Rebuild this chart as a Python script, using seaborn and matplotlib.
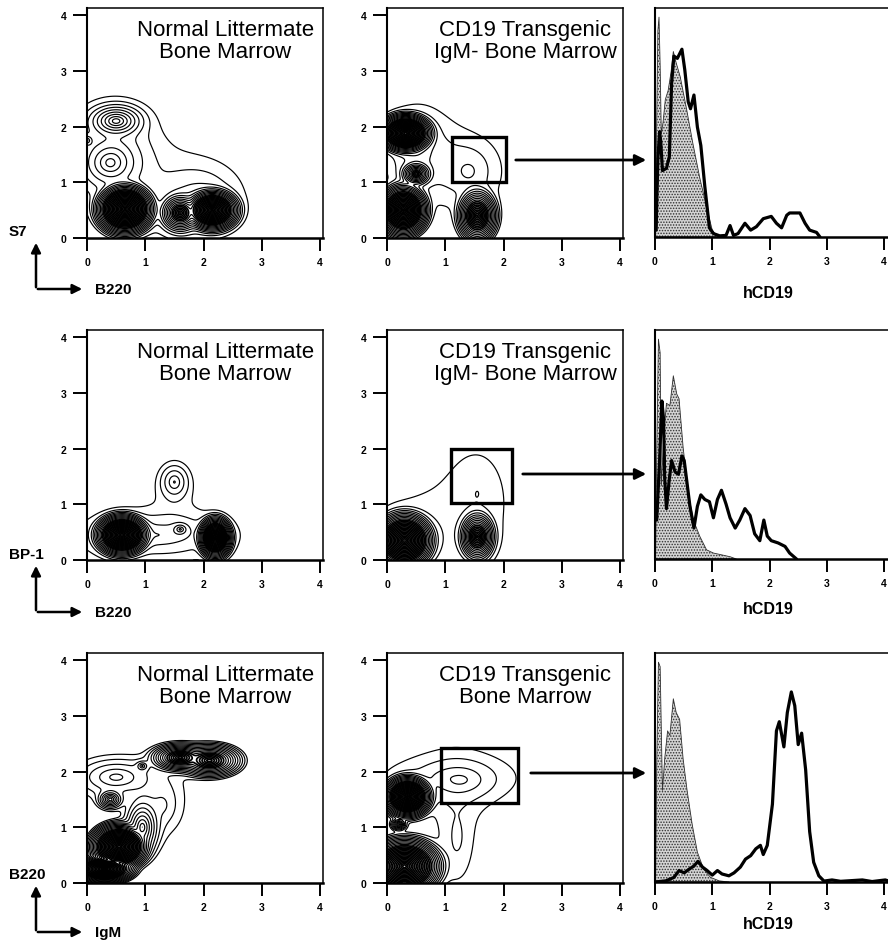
import numpy as np
import matplotlib
matplotlib.use("Agg")
import matplotlib.pyplot as plt
import seaborn as sns
from matplotlib.patches import FancyArrowPatch, Rectangle

W, H = 888, 945

# contour panels: cell populations as (x, y, half-width, half-height, peak)
s7_normal = [
    (0.65, 0.52, 0.6, 0.55, 60), (2.15, 0.5, 0.55, 0.45, 25), (1.6, 0.45, 0.4, 0.4, 2),
    (0.5, 2.1, 0.55, 0.35, 0.3), (0.0, 1.75, 0.12, 0.12, 0.1), (0.4, 1.35, 0.55, 0.5, 0.15),
    (0.45, 1.45, 0.8, 0.95, 0.05), (1.9, 0.7, 0.8, 0.7, 0.05),
]
s7_tg = [
    (0.32, 1.88, 0.55, 0.42, 40), (0.28, 0.5, 0.5, 0.55, 35), (0.5, 1.15, 0.3, 0.25, 1),
    (1.55, 0.4, 0.4, 0.55, 5), (1.4, 1.2, 0.55, 0.6, 0.04), (0.5, 1.6, 0.55, 0.75, 0.05),
]
bp1_normal = [
    (0.6, 0.45, 0.55, 0.45, 40), (2.2, 0.4, 0.35, 0.45, 20), (1.5, 1.4, 0.3, 0.38, 0.07),
    (1.6, 0.55, 0.15, 0.12, 0.1), (1.2, 0.45, 1.4, 0.5, 0.05),
]
bp1_tg = [
    (0.3, 0.35, 0.6, 0.6, 40), (1.55, 0.42, 0.35, 0.5, 3), (1.55, 1.2, 0.3, 0.52, 0.025),
    (0.45, 0.4, 0.6, 0.5, 0.03),
]
b220_normal = [
    (0.55, 0.65, 0.6, 0.5, 50), (0.3, 0.25, 0.6, 0.3, 30), (0.4, 1.5, 0.25, 0.2, 0.3),
    (1.6, 2.25, 0.6, 0.3, 2.5), (2.1, 2.2, 0.65, 0.35, 2.5), (0.95, 2.1, 0.12, 0.1, 0.1),
    (0.5, 1.9, 0.8, 0.4, 0.08), (1.3, 1.4, 0.35, 0.5, 0.04), (0.95, 1.0, 0.35, 0.6, 0.3),
]
b220_tg = [
    (0.35, 1.55, 0.5, 0.45, 35), (0.3, 0.3, 0.75, 0.6, 50), (0.2, 1.05, 0.15, 0.12, 0.3),
    (1.25, 1.85, 0.5, 0.28, 0.05), (1.0, 1.9, 0.9, 0.3, 0.03), (1.2, 0.8, 0.25, 0.7, 0.03),
]

# gates drawn on the transgenic plots: (x0, y0, x1, y1)
gates = [(1.11, 1.01, 2.04, 1.82), (1.10, 1.03, 2.14, 2.0), (0.93, 1.44, 2.25, 2.43)]

titles = ["Normal Littermate\nBone Marrow", "CD19 Transgenic\nIgM- Bone Marrow"]
title_row3 = "CD19 Transgenic\nBone Marrow"
y_names = ["S7", "BP-1", "B220"]
x_names = ["B220", "B220", "IgM"]

# hCD19 histograms (height as fraction of panel)
ctrl1_x = [0.0, 0.02, 0.05, 0.07, 0.09, 0.11, 0.14, 0.18, 0.23, 0.28, 0.32, 0.37, 0.44, 0.55, 0.66, 0.78, 0.9, 1.0, 1.06, 1.12]
ctrl1_y = [0.0, 0.3, 0.9, 0.96, 0.75, 0.45, 0.5, 0.6, 0.64, 0.72, 0.81, 0.76, 0.7, 0.56, 0.41, 0.26, 0.13, 0.03, 0.01, 0.0]
tg1_x = [0.02, 0.05, 0.08, 0.10, 0.13, 0.20, 0.25, 0.29, 0.33, 0.39, 0.47, 0.52, 0.58, 0.62, 0.68, 0.74, 0.80, 0.87, 0.95,
         1.02, 1.13, 1.24, 1.31, 1.37, 1.45, 1.57, 1.67, 1.77, 1.89, 2.03, 2.12, 2.21, 2.30, 2.35, 2.53, 2.62, 2.70, 2.82, 2.88]
tg1_y = [0.03, 0.34, 0.46, 0.42, 0.29, 0.30, 0.35, 0.67, 0.79, 0.78, 0.82, 0.73, 0.59, 0.56, 0.62, 0.48, 0.40, 0.22, 0.04,
         0.015, 0.005, 0.007, 0.05, 0.007, 0.015, 0.06, 0.03, 0.045, 0.08, 0.09, 0.06, 0.04, 0.095, 0.105, 0.105, 0.06, 0.03, 0.02, 0.0]

ctrl2_x = [0.01, 0.03, 0.06, 0.09, 0.11, 0.16, 0.20, 0.26, 0.32, 0.38, 0.42, 0.49, 0.58, 0.67, 0.78, 0.90, 1.02, 1.13, 1.31, 1.42]
ctrl2_y = [0.0, 0.46, 0.96, 0.90, 0.32, 0.56, 0.68, 0.67, 0.80, 0.72, 0.70, 0.49, 0.29, 0.17, 0.10, 0.04, 0.026, 0.02, 0.01, 0.0]
tg2_x = [0.03, 0.08, 0.12, 0.15, 0.17, 0.20, 0.25, 0.29, 0.35, 0.41, 0.47, 0.51, 0.55, 0.61, 0.68, 0.74, 0.80, 0.87, 0.95,
         1.02, 1.09, 1.16, 1.24, 1.31, 1.40, 1.48, 1.57, 1.66, 1.74, 1.83, 1.90, 1.96, 2.03, 2.15, 2.27, 2.35, 2.47]
tg2_y = [0.17, 0.43, 0.69, 0.61, 0.35, 0.22, 0.35, 0.43, 0.38, 0.37, 0.45, 0.43, 0.35, 0.23, 0.135, 0.23, 0.28, 0.26, 0.25,
         0.18, 0.26, 0.30, 0.24, 0.18, 0.135, 0.17, 0.22, 0.19, 0.11, 0.08, 0.17, 0.10, 0.08, 0.07, 0.055, 0.026, 0.0]

ctrl3_x = [0.01, 0.03, 0.06, 0.09, 0.13, 0.17, 0.22, 0.26, 0.32, 0.37, 0.43, 0.49, 0.56, 0.65, 0.74, 0.85, 0.97, 1.12, 1.29]
ctrl3_y = [0.0, 0.51, 0.96, 0.94, 0.40, 0.54, 0.66, 0.64, 0.80, 0.74, 0.71, 0.54, 0.40, 0.25, 0.13, 0.056, 0.02, 0.005, 0.0]
tg3_x = [0.0, 0.19, 0.33, 0.42, 0.51, 0.59, 0.68, 0.75, 0.83, 0.91, 1.0, 1.09, 1.17, 1.29, 1.38, 1.49, 1.58, 1.67, 1.76,
         1.84, 1.89, 1.96, 2.05, 2.12, 2.17, 2.25, 2.31, 2.38, 2.44, 2.50, 2.56, 2.63, 2.70, 2.77, 2.86, 2.95, 3.09, 3.24,
         3.62, 3.79, 4.02, 4.08]
tg3_y = [0.0, 0.005, 0.02, 0.05, 0.04, 0.055, 0.07, 0.09, 0.065, 0.05, 0.03, 0.05, 0.035, 0.027, 0.04, 0.065, 0.10, 0.115,
         0.145, 0.16, 0.12, 0.16, 0.34, 0.66, 0.70, 0.59, 0.74, 0.83, 0.77, 0.60, 0.65, 0.49, 0.22, 0.086, 0.027, 0.004,
         0.009, 0.003, 0.009, 0.002, 0.009, 0.004]

sns.set_style("ticks")
plt.rcParams["font.family"] = ["Liberation Sans", "DejaVu Sans"]
plt.rcParams["hatch.linewidth"] = 0.7
for key in ["text.color", "axes.labelcolor", "xtick.color", "ytick.color", "axes.edgecolor"]:
    plt.rcParams[key] = "black"

fig = plt.figure(figsize=(W / 100, H / 100), dpi=100)


def px_axes(left, top, width, height):
    return fig.add_axes([left / W, 1 - (top + height) / H, width / W, height / H])


def fig_pt(x, y):
    return (x / W, 1 - y / H)


grid_x = np.linspace(0, 4.05, 500)
grid_y = np.linspace(0, 4.13, 500)
GX, GY = np.meshgrid(grid_x, grid_y)
LOWEST = 0.02
LEVELS = LOWEST * 1.35 ** np.arange(0, 40)
# outer contours thin, tightly packed inner ones heavier so dense cores print solid
LEVEL_WIDTHS = np.where(LEVELS > 0.4, 1.25, 0.85)


def density(pops):
    # each population falls off exponentially, reaching the lowest level at its half-width;
    # populations are merged with a soft maximum so that faint tails do not pile up
    z = np.zeros_like(GX)
    for cx, cy, rx, ry, peak in pops:
        k = np.log(peak / LOWEST)
        r = np.sqrt(((GX - cx) / rx) ** 2 + ((GY - cy) / ry) ** 2)
        z += (peak * np.exp(-k * r)) ** 2
    return np.sqrt(z)


def style_axes(ax, show_y=True):
    ax.set_xticks(range(5))
    ax.set_xticklabels([str(i) for i in range(5)], fontweight="bold")
    if show_y:
        ax.set_yticks(range(5))
        ax.set_yticklabels([str(i) for i in range(5)], fontweight="bold")
    else:
        ax.set_yticks([])
    ax.tick_params(axis="x", length=9, width=1.4, pad=5, labelsize=7.5)
    ax.tick_params(axis="y", length=10, width=1.4, pad=5, labelsize=7.5)
    ax.spines["left"].set_linewidth(1.5)
    ax.spines["bottom"].set_linewidth(1.8)
    ax.spines["top"].set_linewidth(1.1)
    ax.spines["right"].set_linewidth(1.1)
    ax.set_xlabel("")
    ax.set_ylabel("")


rows_top = [9, 331, 654]
contour_sets = [(s7_normal, s7_tg), (bp1_normal, bp1_tg), (b220_normal, b220_tg)]
hist_sets = [(ctrl1_x, ctrl1_y, tg1_x, tg1_y), (ctrl2_x, ctrl2_y, tg2_x, tg2_y), (ctrl3_x, ctrl3_y, tg3_x, tg3_y)]
gate_arrows = [(513, 161), (520, 475), (528, 774)]
corner_y = [290, 613, 933]
hist_label_y = [293, 610, 925]

for r in range(3):
    top = rows_top[r]
    for c, pops in enumerate(contour_sets[r]):
        ax = px_axes([87, 387][c], top, 236, 230)
        ax.contour(GX, GY, density(pops), levels=LEVELS, colors="black", linewidths=LEVEL_WIDTHS)
        ax.set_xlim(0, 4.05)
        ax.set_ylim(0, 4.13)
        style_axes(ax)
        if c == 0:
            title = titles[0]
        else:
            title = titles[1] if r < 2 else title_row3
            x0, y0, x1, y1 = gates[r]
            ax.add_patch(Rectangle((x0, y0), x1 - x0, y1 - y0, fill=False, lw=2.4, ec="black"))
        ax.text(2.37, 3.93, title, ha="center", va="top", fontsize=16, linespacing=1.05)

    # histogram
    cx, cy, tx, ty = hist_sets[r]
    hax = px_axes(655, top, 236, 229)
    hax.fill_between(cx, cy, 0, facecolor="#d4d4d4", edgecolor="#303030", hatch="......", lw=0.6)
    sns.lineplot(x=tx, y=ty, ax=hax, color="black", lw=2.3, sort=False, estimator=None)
    hax.set_xlim(0, 4.12)
    hax.set_ylim(0, 1.0)
    style_axes(hax, show_y=False)
    fig.text(*fig_pt(768, hist_label_y[r]), "hCD19", ha="center", va="center", fontsize=11.5, fontweight="bold")

    # gate arrow
    gx, gy = gate_arrows[r]
    fig.add_artist(FancyArrowPatch(fig_pt(gx, gy), fig_pt(649, gy), transform=fig.transFigure,
                                   arrowstyle="-|>", mutation_scale=16, lw=2.0, color="black"))

    # corner axis arrows
    by = corner_y[r]
    fig.add_artist(FancyArrowPatch(fig_pt(36, by + 1), fig_pt(36, by - 49), transform=fig.transFigure,
                                   arrowstyle="-|>", mutation_scale=14, lw=1.8, color="black"))
    fig.add_artist(FancyArrowPatch(fig_pt(35, by), fig_pt(85, by), transform=fig.transFigure,
                                   arrowstyle="-|>", mutation_scale=14, lw=1.8, color="black"))
    fig.text(*fig_pt(9, by - 58), y_names[r], ha="left", va="center", fontsize=11, fontweight="bold")
    fig.text(*fig_pt(95, by), x_names[r], ha="left", va="center", fontsize=11, fontweight="bold")

fig.savefig("out.png", dpi=100)
